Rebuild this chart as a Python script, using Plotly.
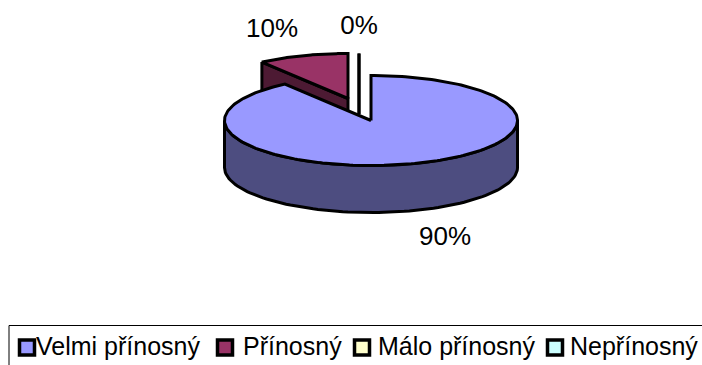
import numpy as np
import plotly.graph_objects as go

categories = ["Velmi přínosný", "Přínosný", "Málo přínosný", "Nepřínosný"]
shares = [90, 10, 0, 0]
top_colors = ["#9999FF", "#993366", "#FFFFCC", "#CCFFFF"]
side_colors = ["#4D4D80", "#4D1A33", "#808066", "#668080"]

# Pie projection in pixel-like plot units
RX, RY, DEPTH = 146.5, 45.0, 47.0
centers = [(371, 120.5), (348, 98.5), (359, 98.5), (359, 98.5)]
label_pos = [(445, 238), (272, 30), (359, 27)]
legend_marker_x = [27, 225, 362, 555]
legend_text_x = [34, 241, 376, 568]
LEGEND_Y = 347.5
FONT = "Liberation Sans"
OUTLINE = dict(color="black", width=3)


def rim(cx, cy, a0, a1, n=90):
    """Points on the elliptical rim; angles run clockwise from twelve o'clock."""
    t = np.radians(np.linspace(a0, a1, n))
    return cx + RX * np.sin(t), cy - RY * np.cos(t)


def poly(x, y, color):
    return go.Scatter(x=x, y=y, mode="lines", fill="toself", fillcolor=color,
                      line=OUTLINE, hoverinfo="skip", showlegend=False)


fig = go.Figure()

# Slice boundaries from the shares
edges = np.concatenate([[0], np.cumsum(shares)]) * 3.6

# Pulled-out slices go first so the large slice overlaps them
for i in [3, 2, 1]:
    cx, cy = centers[i]
    a0, a1 = edges[i], edges[i + 1]
    sx, sy = rim(cx, cy, a0, a0, 2)
    if shares[i] == 0:
        fig.add_trace(go.Scatter(x=[sx[0], cx, cx], y=[sy[0], cy, cy + DEPTH / 3],
                                 mode="lines", line=OUTLINE,
                                 hoverinfo="skip", showlegend=False))
        continue
    x, y = rim(cx, cy, a0, a1)
    # Cut face seen along the start radius
    fig.add_trace(poly([x[0], cx, cx, x[0], x[0]],
                       [y[0], cy, cy + DEPTH, y[0] + DEPTH, y[0]], side_colors[i]))
    fig.add_trace(poly(np.r_[cx, x, cx], np.r_[cy, y, cy], top_colors[i]))

# Main slice: outer wall along the front half, then the top face
cx, cy = centers[0]
wx, wy = rim(cx, cy, 90, 270)
fig.add_trace(poly(np.r_[wx, wx[::-1], wx[0]], np.r_[wy, wy[::-1] + DEPTH, wy[0]], side_colors[0]))
x, y = rim(cx, cy, edges[0], edges[1], 240)
fig.add_trace(poly(np.r_[cx, x, cx], np.r_[cy, y, cy], top_colors[0]))

# Percentage labels
for v, (lx, ly) in zip(shares, label_pos):
    fig.add_trace(go.Scatter(x=[lx], y=[ly], mode="text", text=[f"{v}%"],
                             textposition="middle center",
                             textfont=dict(family=FONT, size=26, color="black"),
                             hoverinfo="skip", showlegend=False))

# Legend row
for name, color, mx, tx in zip(categories, top_colors, legend_marker_x, legend_text_x):
    fig.add_trace(go.Scatter(x=[mx], y=[LEGEND_Y], mode="markers",
                             marker=dict(symbol="square", size=15, color=color,
                                         line=dict(color="black", width=3.5)),
                             name=name, hoverinfo="skip", showlegend=False))
    fig.add_annotation(x=tx, y=LEGEND_Y - 1.5, xref="x", yref="y", text=name, showarrow=False,
                       xanchor="left", yanchor="middle",
                       font=dict(family=FONT, size=25, color="black"))

fig.add_shape(type="rect", x0=9, y0=325.5, x1=720, y1=380, xref="x", yref="y",
              line=dict(color="black", width=1), fillcolor="rgba(0,0,0,0)")

fig.update_layout(
    width=702, height=365, margin=dict(l=0, r=0, t=0, b=0),
    paper_bgcolor="white", plot_bgcolor="white", showlegend=False,
    xaxis=dict(range=[0, 702], visible=False, fixedrange=True),
    yaxis=dict(range=[365, 0], visible=False, fixedrange=True),
)
fig.write_html("out.html")
